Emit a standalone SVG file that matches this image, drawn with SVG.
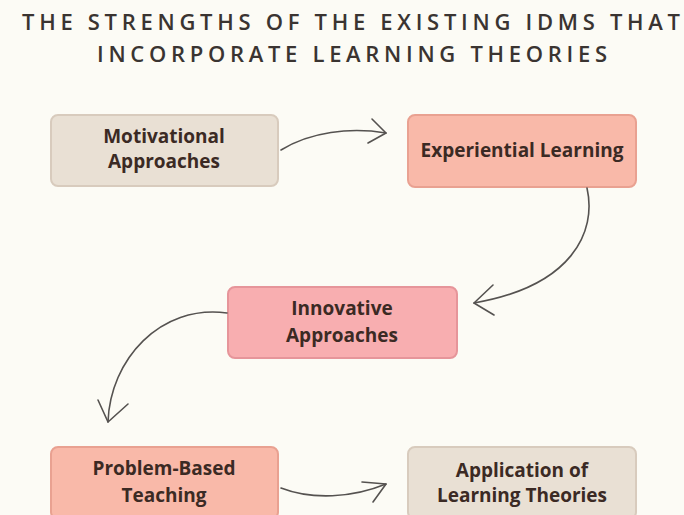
<svg xmlns="http://www.w3.org/2000/svg" width="684" height="515" viewBox="0 0 684 515">
  <defs>
    <style>
      .title { font-family: "Open Sans", "Liberation Sans", sans-serif; font-weight: 600; font-size: 22px; fill: #3a3431; }
      .box { stroke-width: 2; }
      .beige { fill: #e9e0d4; stroke: #d8cbbd; }
      .salmon { fill: #f9b9a9; stroke: #e9a191; }
      .pink { fill: #f8aeb0; stroke: #e6959a; }
      .label { font-family: "Open Sans", "Liberation Sans", sans-serif; font-weight: 700; font-size: 19px; fill: #3b2a24; text-anchor: middle; }
      .conn { fill: none; stroke: #555250; stroke-width: 1.6; stroke-linecap: round; stroke-linejoin: round; }
    </style>
  </defs>

  <!-- background -->
  <rect x="0" y="0" width="684" height="515" fill="#fcfbf5"/>

  <!-- title -->
  <g id="title">
    <text class="title" x="22" y="30" textLength="658" lengthAdjust="spacing">THE STRENGTHS OF THE EXISTING IDMS THAT</text>
    <text class="title" x="97" y="62" textLength="510" lengthAdjust="spacing">INCORPORATE LEARNING THEORIES</text>
  </g>

  <!-- nodes -->
  <g id="motivational-approaches">
    <rect class="box beige" x="51" y="115" width="227" height="71" rx="7"/>
    <text class="label" x="164" y="143">Motivational</text>
    <text class="label" x="164" y="168">Approaches</text>
  </g>

  <g id="experiential-learning">
    <rect class="box salmon" x="408" y="115" width="228" height="72" rx="7"/>
    <text class="label" x="522" y="157">Experiential Learning</text>
  </g>

  <g id="innovative-approaches">
    <rect class="box pink" x="228" y="287" width="229" height="71" rx="7"/>
    <text class="label" x="342" y="315">Innovative</text>
    <text class="label" x="342" y="342">Approaches</text>
  </g>

  <g id="problem-based-teaching">
    <rect class="box salmon" x="51" y="447" width="227" height="72" rx="7"/>
    <text class="label" x="164" y="475">Problem-Based</text>
    <text class="label" x="164" y="502">Teaching</text>
  </g>

  <g id="application-of-learning-theories">
    <rect class="box beige" x="408" y="447" width="228" height="72" rx="7"/>
    <text class="label" x="522" y="477">Application of</text>
    <text class="label" x="522" y="502">Learning Theories</text>
  </g>

  <!-- connectors: hand-drawn curves with open chevron heads -->
  <g id="connectors">
    <path class="conn" d="M281,150 C310,132 350,127 386,133"/>
    <path class="conn" d="M372,119 L386,133 L368,143"/>

    <path class="conn" d="M587,188 C597,232 572,286 474,303"/>
    <path class="conn" d="M493,285 L474,303 L494,315"/>

    <path class="conn" d="M227,313 C160,304 110,360 108,422"/>
    <path class="conn" d="M98,400 L108,422 L128,404"/>

    <path class="conn" d="M281,488 C312,500 352,498 386,484"/>
    <path class="conn" d="M362,482 L386,484 L373,502"/>
  </g>
</svg>
